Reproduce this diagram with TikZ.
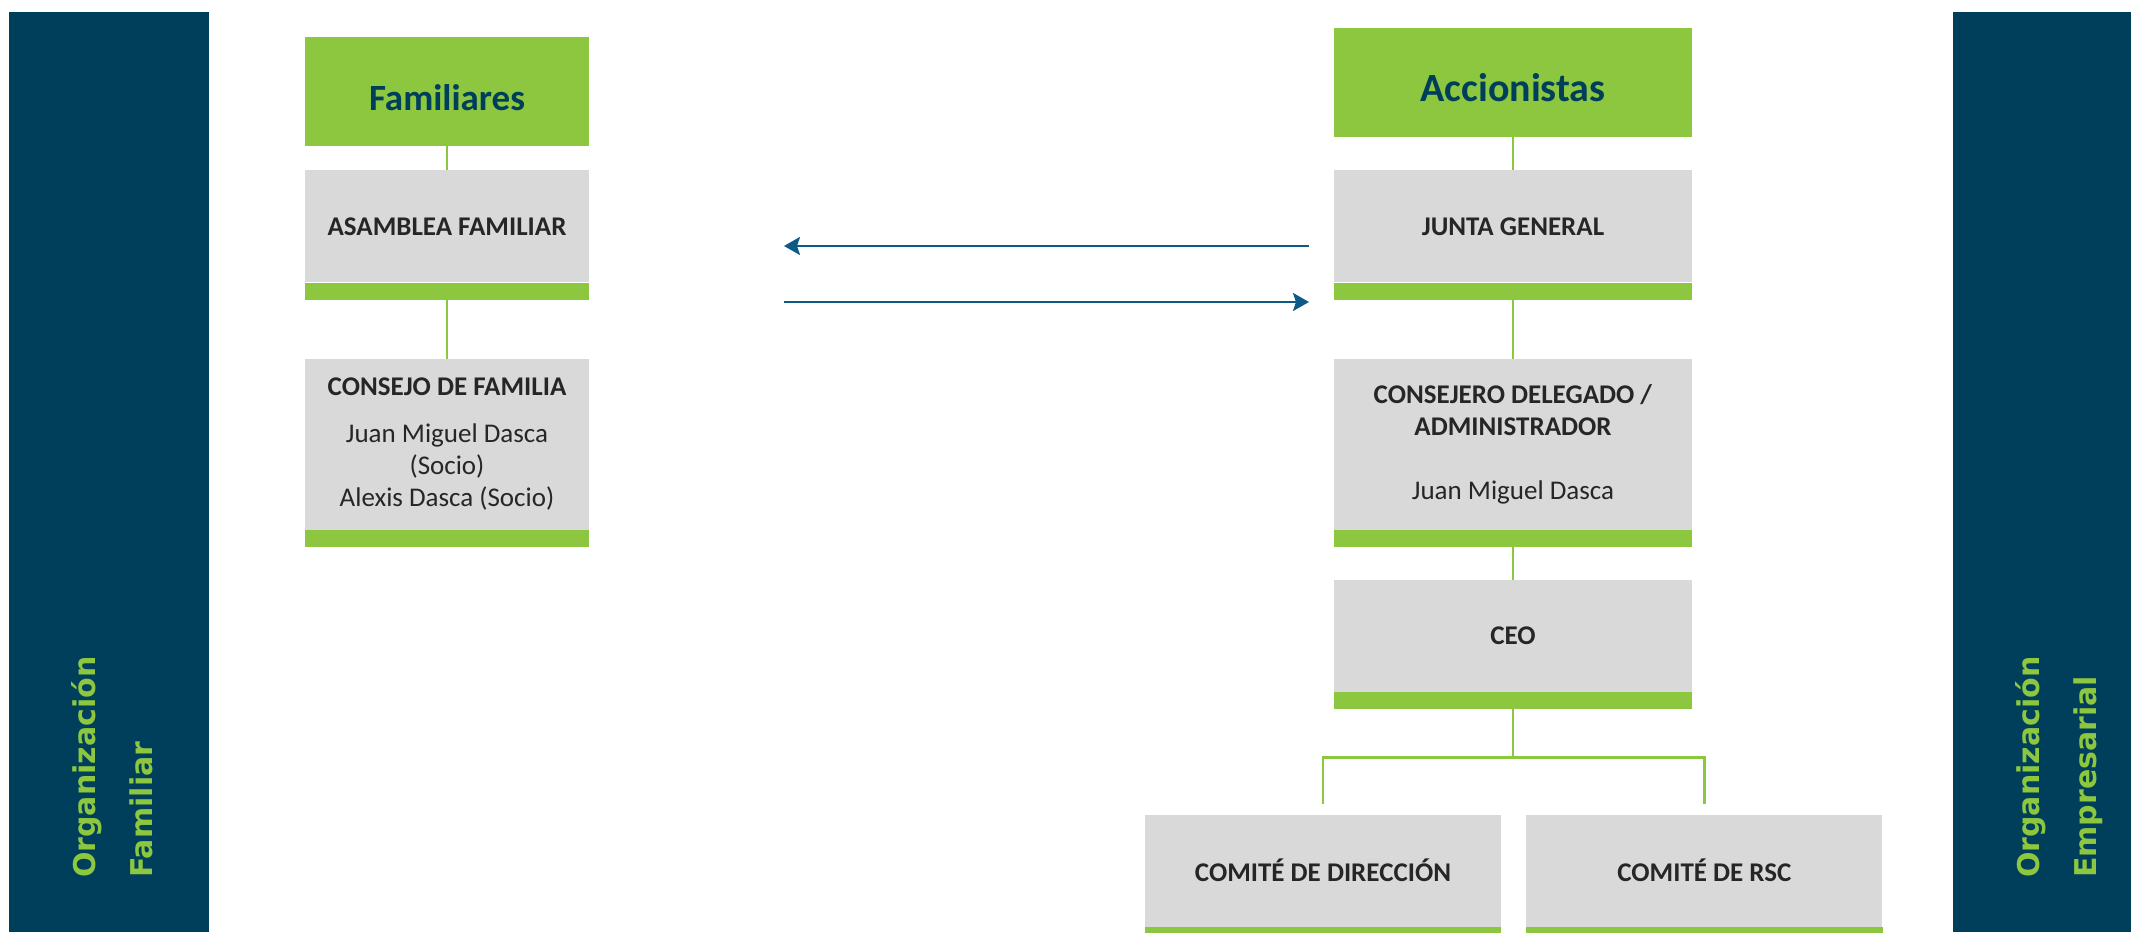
\documentclass[tikz,border=0pt]{standalone}
\usepackage{fontspec}
\setmainfont{Carlito}
\newfontfamily\fuenteancha{DejaVu Sans}
\usetikzlibrary{positioning,arrows.meta}

\definecolor{azulosc}{HTML}{003F5C}
\definecolor{verde}{HTML}{8DC63F}
\definecolor{gris}{HTML}{D9D9D9}
\definecolor{texto}{HTML}{262626}
\definecolor{flecha}{HTML}{0D5A87}

\begin{document}
\begin{tikzpicture}[x=1pt,y=1pt,>={Stealth[length=16pt,width=18pt,inset=3pt]},
	cabecera/.style={fill=verde,text=azulosc,inner sep=0pt,minimum height=109pt,text height=38pt,text depth=0pt,font=\bfseries\fontsize{37}{44}\selectfont},
	caja/.style={fill=gris,text=texto,inner sep=0pt,align=center,minimum height=112pt,font=\fontsize{27}{32}\selectfont},
	enlace/.style={draw=verde,line width=2.5pt},
	sentido/.style={->,draw=flecha,line width=2.5pt},
	lado/.style={rotate=90,anchor=base west,align=left,inner sep=0pt,text=verde,font=\fuenteancha\bfseries\fontsize{30}{57}\selectfont}]

	\useasboundingbox (0,0) rectangle (2131,932);

	\fill[azulosc] (9,0) rectangle (209,920);
	\fill[azulosc] (1953,0) rectangle (2131,920);
	\node[lado] (orgfam) at (152,54) {Organización\\Familiar};
	\node[lado] (orgemp) at (2096,54) {Organización\\Empresarial};

	\node[cabecera,minimum width=284pt] 					(familiares) at (447,840.5) {Familiares};
	\node[caja,minimum width=284pt,below=24pt of familiares] 	(asamblea) {\textbf{ASAMBLEA FAMILIAR}};
	\node[caja,minimum width=284pt,minimum height=171pt,below=76pt of asamblea] (consejo)
		{\textbf{CONSEJO DE FAMILIA}\\[15pt]Juan Miguel Dasca\\(Socio)\\Alexis Dasca (Socio)};

	\node[cabecera,minimum width=358pt,font=\bfseries\fontsize{40}{48}\selectfont] (accionistas) at (1513,849.5) {Accionistas};
	\node[caja,minimum width=358pt,below=33pt of accionistas] 	(junta) {\textbf{JUNTA GENERAL}};
	\node[caja,minimum width=358pt,minimum height=171pt,below=76pt of junta] (consejero)
		{\textbf{CONSEJERO DELEGADO /}\\\textbf{ADMINISTRADOR}\\[32pt]Juan Miguel Dasca};
	\node[caja,minimum width=358pt,below=50pt of consejero] 	(ceo) {\textbf{CEO}};
	\node[caja,minimum width=356pt,below=122pt of ceo,xshift=-190pt] (direccion) {\textbf{COMITÉ DE DIRECCIÓN}};
	\node[caja,minimum width=356pt,right=25pt of direccion] 	(rsc) {\textbf{COMITÉ DE RSC}};

	\path	(familiares)	edge[enlace]	(asamblea);
	\path	(asamblea)		edge[enlace]	(consejo);
	\path	(accionistas)	edge[enlace]	(junta);
	\path	(junta)			edge[enlace]	(consejero);
	\path	(consejero)		edge[enlace]	(ceo);

	\coordinate (ramal) at ([yshift=-65pt]ceo.south);
	\draw[enlace] (ceo.south) -- (ramal);
	\draw[enlace] ([yshift=10pt]direccion.north) |- (ramal) -| ([yshift=10pt]rsc.north);

	\foreach \n in {asamblea,consejo,junta,consejero,ceo,direccion,rsc}
		\fill[verde] (\n.south west) rectangle ([yshift=-17pt]\n.south east);

	\coordinate (j1) at (1309,686);
	\coordinate (a1) at (784,686);
	\coordinate (a2) at (784,630);
	\coordinate (j2) at (1309,630);
	\draw[sentido] (j1) -- (a1);
	\draw[sentido] (a2) -- (j2);
\end{tikzpicture}
\end{document}
